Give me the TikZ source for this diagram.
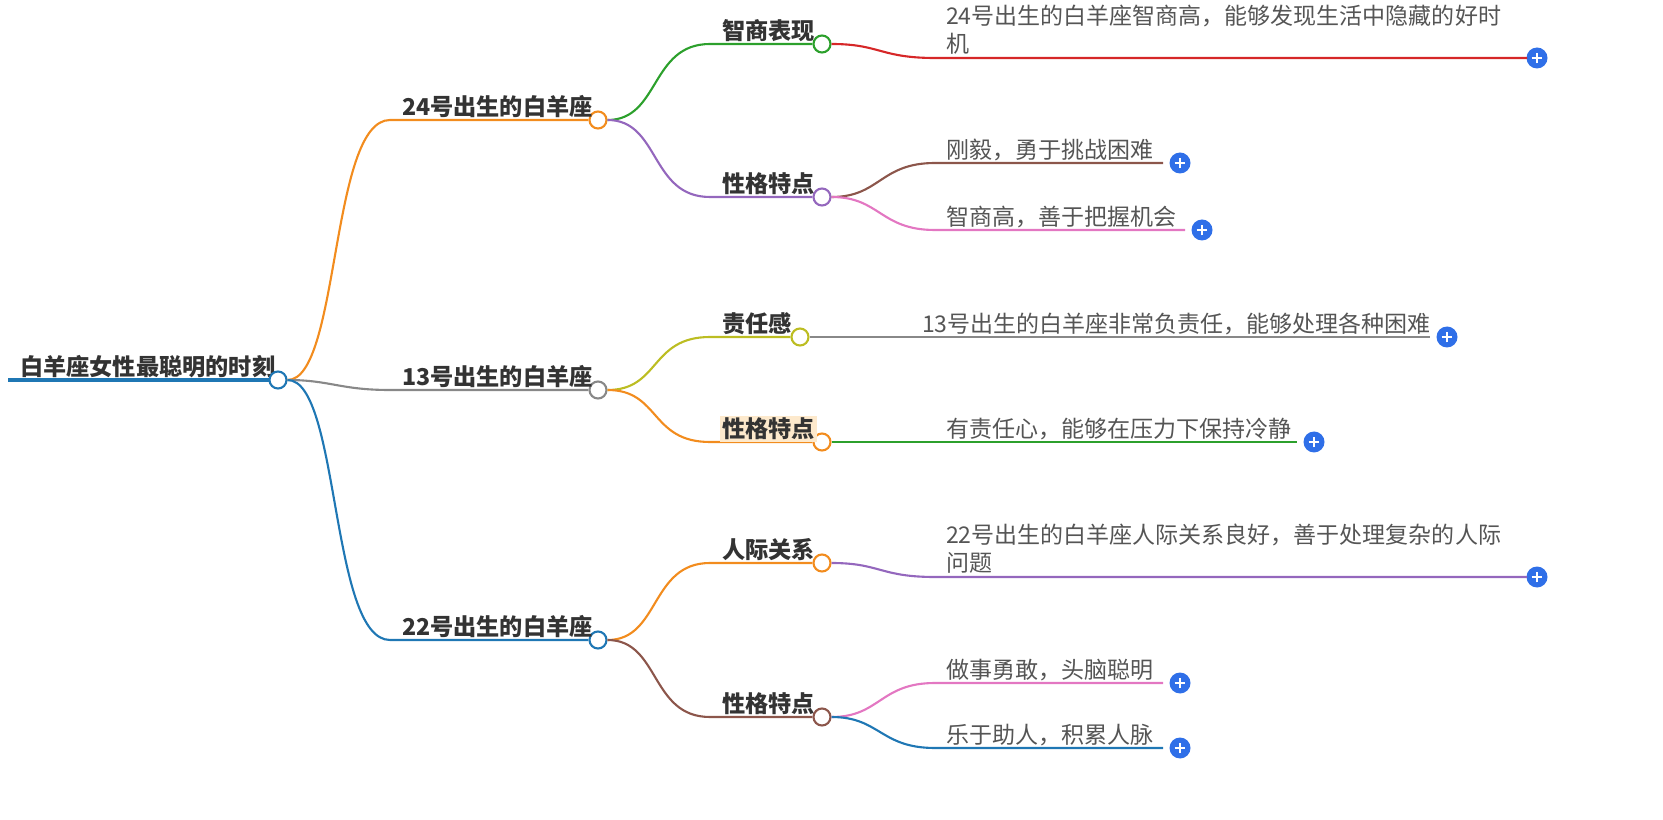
\documentclass[tikz,border=0pt]{standalone}
\usepackage{fontspec}
\setmainfont{Noto Sans CJK SC}
\definecolor{corange}{HTML}{F28C1E}
\definecolor{cgray}{HTML}{888888}
\definecolor{cblue}{HTML}{1F77B4}
\definecolor{cgreen}{HTML}{2CA02C}
\definecolor{cpurple}{HTML}{9467BD}
\definecolor{colive}{HTML}{BCBD22}
\definecolor{cbrown}{HTML}{8C564B}
\definecolor{cpink}{HTML}{E377C2}
\definecolor{cred}{HTML}{D62728}
\definecolor{cplus}{HTML}{2F6FE8}
\definecolor{ctext}{HTML}{333333}
\definecolor{cleaf}{HTML}{555555}
\tikzset{
	dot/.style={circle, draw=#1, fill=white, line width=1.2pt, minimum size=17*0.02cm, inner sep=0pt},
	lbl/.style={anchor=south west, inner sep=1pt, font=\fontsize{13.2}{15}\selectfont\bfseries, text=ctext},
	leaf/.style={anchor=south west, inner sep=1pt, align=left, font=\fontsize{13.1}{15.8}\selectfont, text=cleaf},
	plus/.style={circle, fill=cplus, minimum size=21*0.02cm, inner sep=0pt, path picture={
		\draw[white, line width=1.3pt] ([xshift=-3pt]path picture bounding box.center) -- ([xshift=3pt]path picture bounding box.center);
		\draw[white, line width=1.3pt] ([yshift=-3pt]path picture bounding box.center) -- ([yshift=3pt]path picture bounding box.center);}},
	br/.style={line width=1.2pt, draw=#1}
}
\begin{document}
\begin{tikzpicture}[x=0.02cm, y=-0.02cm]
	\useasboundingbox (0,0) rectangle (1663,820);

	% root
	\draw[cblue, line width=2.5pt] (8,380) -- (270,380);
	\node[lbl] (rt) at (18,380) {白羊座女性最聪明的时刻};
	\node[dot=cblue] (r) at (278,380) {};

	% level 1
	\node[dot=corange] (a) at (598,120) {};
	\node[dot=cgray] (b) at (598,390) {};
	\node[dot=cblue] (c) at (598,640) {};
	\coordinate (a0) at (390,120);
	\coordinate (b0) at (390,390);
	\coordinate (c0) at (390,640);
	\draw[br=corange] (r) .. controls (340,380) and (330,120) .. (a0) -- (a);
	\draw[br=cgray] (r) .. controls (330,380) and (340,390) .. (b0) -- (b);
	\draw[br=cblue] (r) .. controls (340,380) and (330,640) .. (c0) -- (c);
	\node[lbl] at (400,120) {24号出生的白羊座};
	\node[lbl] at (400,390) {13号出生的白羊座};
	\node[lbl] at (400,640) {22号出生的白羊座};

	% level 2
	\node[dot=cgreen] (a1) at (822,44) {};
	\node[dot=cpurple] (a2) at (822,197) {};
	\node[dot=colive] (b1) at (800,337) {};
	\node[dot=corange] (b2) at (822,442) {};
	\node[dot=corange] (c1) at (822,563) {};
	\node[dot=cbrown] (c2) at (822,717) {};
	\draw[br=cgreen] (a) .. controls (660,120) and (650,44) .. (710,44) -- (a1);
	\draw[br=cpurple] (a) .. controls (660,120) and (650,197) .. (710,197) -- (a2);
	\draw[br=colive] (b) .. controls (660,390) and (650,337) .. (710,337) -- (b1);
	\draw[br=corange] (b) .. controls (660,390) and (650,442) .. (710,442) -- (b2);
	\draw[br=corange] (c) .. controls (660,640) and (650,563) .. (710,563) -- (c1);
	\draw[br=cbrown] (c) .. controls (660,640) and (650,717) .. (710,717) -- (c2);
	\node[lbl] at (720,44) {智商表现};
	\node[lbl] at (720,197) {性格特点};
	\node[lbl] at (720,337) {责任感};
	\node[lbl, fill={rgb,255:red,253;green,233;blue,204}] at (720,442) {性格特点};
	\node[lbl] at (720,563) {人际关系};
	\node[lbl] at (720,717) {性格特点};

	% level 3
	\node[plus] (p1) at (1537,58) {};
	\node[plus] (p2) at (1180,163) {};
	\node[plus] (p3) at (1202,230) {};
	\node[plus] (p4) at (1447,337) {};
	\node[plus] (p5) at (1314,442) {};
	\node[plus] (p6) at (1537,577) {};
	\node[plus] (p7) at (1180,683) {};
	\node[plus] (p8) at (1180,748) {};
	\draw[br=cred] (a1) .. controls (880,44) and (880,58) .. (935,58) -- (1527,58);
	\draw[br=cbrown] (a2) .. controls (880,197) and (880,163) .. (935,163) -- (1163,163);
	\draw[br=cpink] (a2) .. controls (880,197) and (880,230) .. (935,230) -- (1185,230);
	\draw[br=cgray] (b1) .. controls (860,337) and (860,337) .. (910,337) -- (1430,337);
	\draw[br=cgreen] (b2) .. controls (880,442) and (880,442) .. (935,442) -- (1297,442);
	\draw[br=cpurple] (c1) .. controls (880,563) and (880,577) .. (935,577) -- (1527,577);
	\draw[br=cpink] (c2) .. controls (880,717) and (880,683) .. (935,683) -- (1163,683);
	\draw[br=cblue] (c2) .. controls (880,717) and (880,748) .. (935,748) -- (1163,748);
	\node[leaf] at (944,56) {24号出生的白羊座智商高，能够发现生活中隐藏的好时\\机};
	\node[leaf] at (944,163) {刚毅，勇于挑战困难};
	\node[leaf] at (944,230) {智商高，善于把握机会};
	\node[leaf] at (920,337) {13号出生的白羊座非常负责任，能够处理各种困难};
	\node[leaf] at (944,442) {有责任心，能够在压力下保持冷静};
	\node[leaf] at (944,575) {22号出生的白羊座人际关系良好，善于处理复杂的人际\\问题};
	\node[leaf] at (944,683) {做事勇敢，头脑聪明};
	\node[leaf] at (944,748) {乐于助人，积累人脉};
\end{tikzpicture}
\end{document}
